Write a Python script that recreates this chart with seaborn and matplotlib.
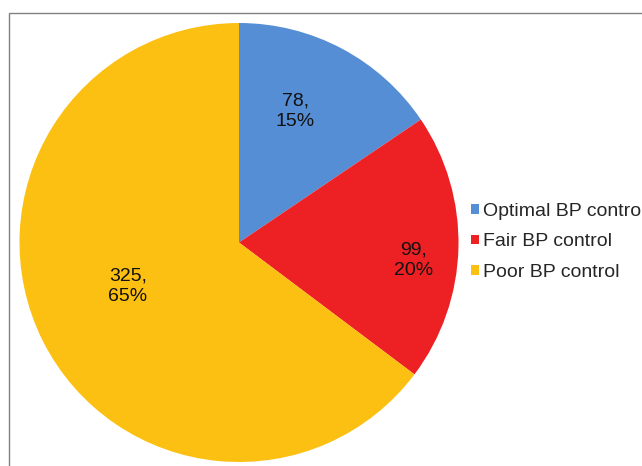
import matplotlib
matplotlib.use("Agg")
import matplotlib.pyplot as plt
import seaborn as sns
import numpy as np
from matplotlib.patches import Rectangle

categories = ["Optimal BP control", "Fair BP control", "Poor BP control"]
counts = [78, 99, 325]
percents = [15, 20, 65]
colors = ["#558ED5", "#ED2024", "#FBC012"]

# where each label sits: fraction of radius and angle shift from wedge middle
label_r = [0.66, 0.80, 0.54]
label_shift = [5, -3.6, -6]

sns.set_theme(style="white")
plt.rcParams['font.family'] = ['Liberation Sans', 'DejaVu Sans']

W, H = 642, 466
fig = plt.figure(figsize=(W / 100, H / 100), dpi=100)
fig.patch.set_facecolor("white")

# chart area border (right/bottom edges fall off the picture)
fig.patches.append(Rectangle((8.5 / W, -0.2), 1.2, 1 - 12.5 / H + 0.2,
                             transform=fig.transFigure, fill=False,
                             edgecolor="#808080", linewidth=1.0))

cx, cy, r = 239, 242.5, 219.5
ax = fig.add_axes([(cx - r) / W, (H - cy - r) / H, 2 * r / W, 2 * r / H])
wedges, _ = ax.pie(counts, colors=colors, startangle=90, counterclock=False,
                   radius=1.0, wedgeprops=dict(linewidth=0))
ax.set_xlim(-1, 1)
ax.set_ylim(-1, 1)
ax.set_aspect("equal")
ax.axis("off")

for w, n, p, rf, sh in zip(wedges, counts, percents, label_r, label_shift):
    mid = np.deg2rad((w.theta1 + w.theta2) / 2 + sh)
    ax.text(rf * np.cos(mid), rf * np.sin(mid) - 0.01, f"{n},\n{p}%",
            ha="center", va="center", fontsize=14, color="#111111",
            linespacing=1.25)

leg = fig.legend(wedges, categories, loc="upper left",
                 bbox_to_anchor=(463 / W, 1 - 195 / H), frameon=False,
                 fontsize=14, handlelength=0.4, handleheight=0.4,
                 handletextpad=0.25, labelspacing=0.7, borderaxespad=0)

fig.savefig("out.png", dpi=100)
